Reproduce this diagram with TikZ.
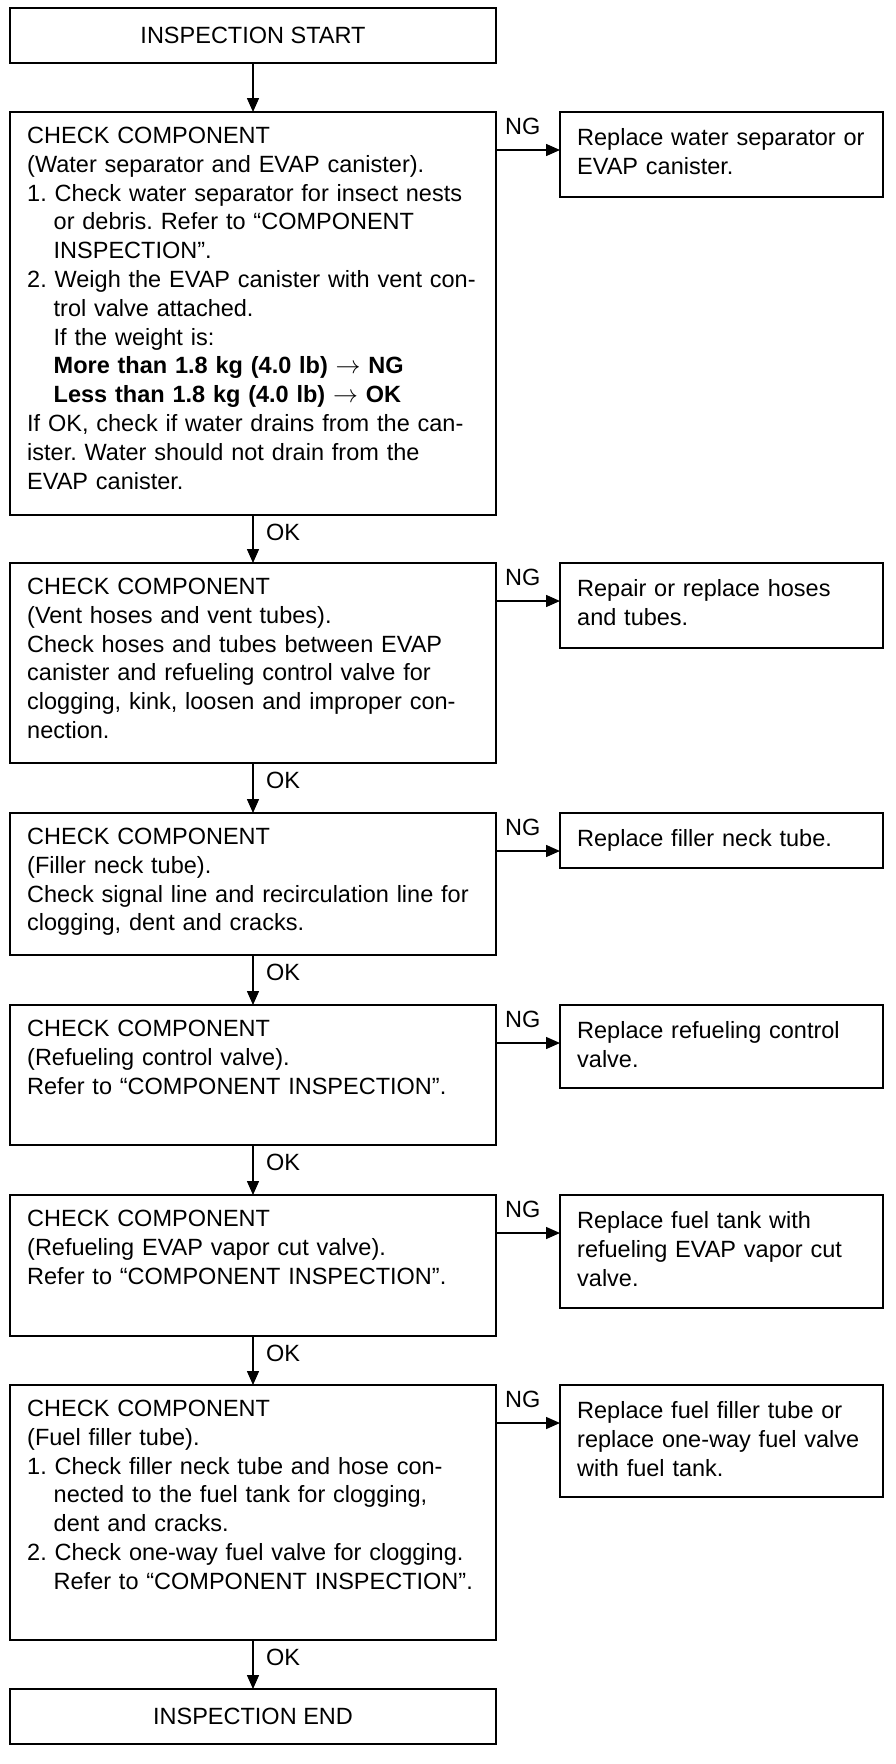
\documentclass[tikz,border=0pt]{standalone}
\usepackage{fontspec}
\setmainfont{Liberation Sans}
\usetikzlibrary{arrows.meta,calc}
\newcommand\flowfont{\fontsize{23.5pt}{28.8pt}\selectfont\frenchspacing}
\newcommand\indt{\hspace*{26.5pt}}
\begin{document}
\begin{tikzpicture}[x=1pt,y=-1pt,
  box/.style={draw, line width=1.8pt, anchor=north west, inner sep=0pt, outer sep=0pt, font=\flowfont},
  txt/.style={anchor=base west, inner sep=0pt, text width=470pt, align=left, font=\flowfont},
  rtxt/.style={anchor=base west, inner sep=0pt, text width=300pt, align=left, font=\flowfont},
  lbl/.style={anchor=west, inner sep=0pt, font=\flowfont},
  conn/.style={line width=1.5pt, -{Triangle[length=14pt,width=12pt]}}]
\useasboundingbox (0,0) rectangle (896,1764);
\fill[white] (0,0) rectangle (896,1764);

% left column boxes
\node[box, minimum width=486pt, minimum height=55pt] (start) at (10,8) {INSPECTION START};
\node[box, minimum width=486pt, minimum height=403pt] (b1) at (10,112) {};
\node[box, minimum width=486pt, minimum height=200pt] (b2) at (10,563) {};
\node[box, minimum width=486pt, minimum height=142pt] (b3) at (10,813) {};
\node[box, minimum width=486pt, minimum height=140pt] (b4) at (10,1005) {};
\node[box, minimum width=486pt, minimum height=141pt] (b5) at (10,1195) {};
\node[box, minimum width=486pt, minimum height=255pt] (b6) at (10,1385) {};
\node[box, minimum width=486pt, minimum height=55pt] (end) at (10,1689) {INSPECTION END};

% right column boxes
\node[box, minimum width=323pt, minimum height=85pt] (r1) at (560,112) {};
\node[box, minimum width=323pt, minimum height=85pt] (r2) at (560,563) {};
\node[box, minimum width=323pt, minimum height=55pt] (r3) at (560,813) {};
\node[box, minimum width=323pt, minimum height=83pt] (r4) at (560,1005) {};
\node[box, minimum width=323pt, minimum height=113pt] (r5) at (560,1195) {};
\node[box, minimum width=323pt, minimum height=112pt] (r6) at (560,1385) {};

% texts of left boxes
\node[txt] (t1) at ($(b1.north west)+(17,31.5)$) {CHECK COMPONENT\\
(Water separator and EVAP canister).\\
1. Check water separator for insect nests\\
\indt or debris. Refer to “COMPONENT\\
\indt INSPECTION”.\\
2. Weigh the EVAP canister with vent con-\\
\indt trol valve attached.\\
\indt If the weight is:\\
\indt\textbf{More than 1.8 kg (4.0 lb) $\rightarrow$ NG}\\
\indt\textbf{Less than 1.8 kg (4.0 lb) $\rightarrow$ OK}\\
If OK, check if water drains from the can-\\
ister. Water should not drain from the\\
EVAP canister.};
\node[txt] (t2) at ($(b2.north west)+(17,31.5)$) {CHECK COMPONENT\\
(Vent hoses and vent tubes).\\
Check hoses and tubes between EVAP\\
canister and refueling control valve for\\
clogging, kink, loosen and improper con-\\
nection.};
\node[txt] (t3) at ($(b3.north west)+(17,31.5)$) {CHECK COMPONENT\\
(Filler neck tube).\\
Check signal line and recirculation line for\\
clogging, dent and cracks.};
\node[txt] (t4) at ($(b4.north west)+(17,31.5)$) {CHECK COMPONENT\\
(Refueling control valve).\\
Refer to “COMPONENT INSPECTION”.};
\node[txt] (t5) at ($(b5.north west)+(17,31.5)$) {CHECK COMPONENT\\
(Refueling EVAP vapor cut valve).\\
Refer to “COMPONENT INSPECTION”.};
\node[txt] (t6) at ($(b6.north west)+(17,31.5)$) {CHECK COMPONENT\\
(Fuel filler tube).\\
1. Check filler neck tube and hose con-\\
\indt nected to the fuel tank for clogging,\\
\indt dent and cracks.\\
2. Check one-way fuel valve for clogging.\\
\indt Refer to “COMPONENT INSPECTION”.};

% texts of right boxes
\node[rtxt] (s1) at ($(r1.north west)+(17,33.5)$) {Replace water separator or\\EVAP canister.};
\node[rtxt] (s2) at ($(r2.north west)+(17,33.5)$) {Repair or replace hoses\\and tubes.};
\node[rtxt] (s3) at ($(r3.north west)+(17,33.5)$) {Replace filler neck tube.};
\node[rtxt] (s4) at ($(r4.north west)+(17,33.5)$) {Replace refueling control\\valve.};
\node[rtxt] (s5) at ($(r5.north west)+(17,33.5)$) {Replace fuel tank with\\refueling EVAP vapor cut\\valve.};
\node[rtxt] (s6) at ($(r6.north west)+(17,33.5)$) {Replace fuel filler tube or\\replace one-way fuel valve\\with fuel tank.};

% vertical connectors
\draw[conn] (start.south) -- (b1.north);
\draw[conn] (b1.south) -- (b2.north);
\draw[conn] (b2.south) -- (b3.north);
\draw[conn] (b3.south) -- (b4.north);
\draw[conn] (b4.south) -- (b5.north);
\draw[conn] (b5.south) -- (b6.north);
\draw[conn] (b6.south) -- (end.north);

\node[lbl] (ok1) at ($(b1.south)+(13,17)$) {OK};
\node[lbl] (ok2) at ($(b2.south)+(13,17)$) {OK};
\node[lbl] (ok3) at ($(b3.south)+(13,17)$) {OK};
\node[lbl] (ok4) at ($(b4.south)+(13,17)$) {OK};
\node[lbl] (ok5) at ($(b5.south)+(13,17)$) {OK};
\node[lbl] (ok6) at ($(b6.south)+(13,17)$) {OK};

% NG connectors
\foreach \i in {1,...,6}{
  \draw[conn] ($(b\i.north east)+(0,38)$) -- ($(r\i.north west)+(0,38)$);
  \node[lbl] (ng\i) at ($(b\i.north east)+(9,14)$) {NG};
}
\end{tikzpicture}
\end{document}
